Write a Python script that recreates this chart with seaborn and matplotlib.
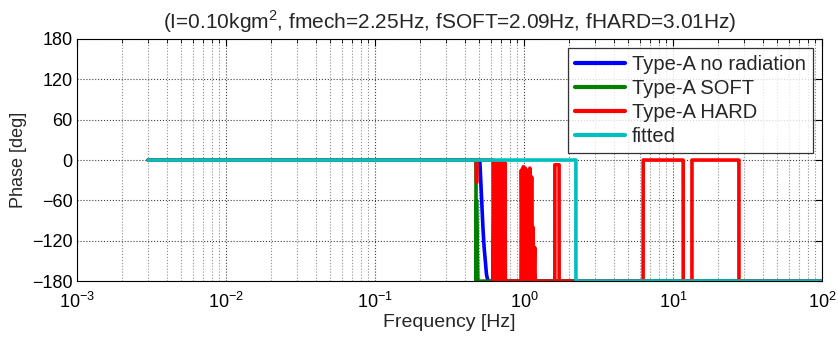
import pandas as pd
import matplotlib
matplotlib.use("Agg")
import matplotlib.pyplot as plt
import seaborn as sns

# phase curves (frequency in Hz, phase in deg)
blue_freq = [0.003, 0.505, 0.510, 0.520, 0.530, 0.540, 0.550, 0.560, 0.573,
             0.700, 0.702, 0.705, 100.0]
blue_phase = [0, 0, -20, -60, -100, -130, -150, -170, -180,
              -180, -75, -180, -180]

green_freq = [0.003, 0.476, 0.477, 0.480, 0.490, 0.660, 0.663, 0.667,
              1.140, 1.145, 1.150, 100.0]
green_phase = [0, 0, -180, -60, -180, -180, -110, -180,
               -180, -150, -180, -180]

red_freq = [0.003, 0.478, 0.479, 0.482, 0.483, 0.620, 0.621, 0.632, 0.645,
            0.660, 0.675, 0.690, 0.705, 0.720, 0.735, 0.745, 0.750, 0.955,
            0.960, 0.975, 0.990, 1.005, 1.020, 1.035, 1.047, 1.055, 1.065,
            1.080, 1.095, 1.110, 1.125, 1.140, 1.150, 1.165, 1.180, 1.190,
            1.610, 1.611, 1.720, 1.721, 6.30, 6.31, 11.7, 11.71, 13.4, 13.41,
            27.7, 27.71, 100.0]
red_phase = [0, 0, -33, -33, 0, 0, -180, -4, -180,
             -4, -180, -4, -180, -4, -180, -4, -180, -180,
             -15, -180, -10, -180, -12, -180, -30, -180, -15,
             -180, -12, -180, -25, -180, -100, -180, -130, -180,
             -180, -7, -7, -180, -180, 0, 0, -180, -180, 0,
             0, -180, -180]

fit_freq = [0.003, 2.23, 2.231, 100.0]
fit_phase = [0, 0, -180, -180]

labels = ["Type-A no radiation", "Type-A SOFT", "Type-A HARD", "fitted"]
colors = ["#0000FF", "#008000", "#FF0000", "#00BFBF"]
title = "(I=0.10kgm$^2$, fmech=2.25Hz, fSOFT=2.09Hz, fHARD=3.01Hz)"


def main():
    frames = []
    for lab, f, p in zip(labels,
                         [blue_freq, green_freq, red_freq, fit_freq],
                         [blue_phase, green_phase, red_phase, fit_phase]):
        frames.append(pd.DataFrame({"freq": f, "phase": p, "curve": lab}))
    df = pd.concat(frames, ignore_index=True)

    sns.set_style("white")
    plt.rcParams["font.family"] = ["Liberation Sans", "DejaVu Sans"]
    plt.rcParams["mathtext.fontset"] = "custom"
    plt.rcParams["mathtext.rm"] = "Liberation Sans"
    plt.rcParams["font.size"] = 13

    fig = plt.figure(figsize=(8.38, 3.42), dpi=100)
    ax = fig.add_axes([0.0919, 0.178, 0.889, 0.708])

    sns.lineplot(
        data=df,
        x="freq",
        y="phase",
        hue="curve",
        hue_order=labels,
        palette=dict(zip(labels, colors)),
        estimator=None,
        sort=False,
        linewidth=2.6,
        ax=ax,
    )

    ax.set_xscale("log")
    ax.set_xlim(1e-3, 1e2)
    ax.set_ylim(-180, 180)
    ax.set_yticks(range(-180, 181, 60))
    ax.grid(True, which="major", linestyle=":", color="0.25", linewidth=0.8)
    ax.grid(True, which="minor", axis="x", linestyle=":", color="0.55", linewidth=0.8)
    ax.tick_params(which="both", direction="in", top=True, right=True,
                   labelsize=13, colors="black")
    ax.tick_params(which="major", length=5)
    ax.tick_params(which="minor", length=3)
    ax.tick_params(axis="y", which="major", pad=3)
    ax.tick_params(axis="x", which="major", pad=8)
    for s in ax.spines.values():
        s.set_color("black")
        s.set_linewidth(0.8)

    ax.set_xlabel("Frequency [Hz]", fontsize=14, labelpad=1)
    ax.set_ylabel("Phase [deg]", fontsize=13, labelpad=4)
    ax.set_title(title, fontsize=15, pad=7)

    leg = ax.legend(loc="upper right", fontsize=14.5, frameon=True, fancybox=False,
                    edgecolor="black", handlelength=2.5, handletextpad=0.35,
                    borderaxespad=0.45, labelspacing=0.25, borderpad=0.35)
    leg.get_frame().set_linewidth(0.9)
    for line in leg.get_lines():
        line.set_linewidth(3)

    fig.savefig("out.png", dpi=100)
    plt.close(fig)


if __name__ == "__main__":
    main()
